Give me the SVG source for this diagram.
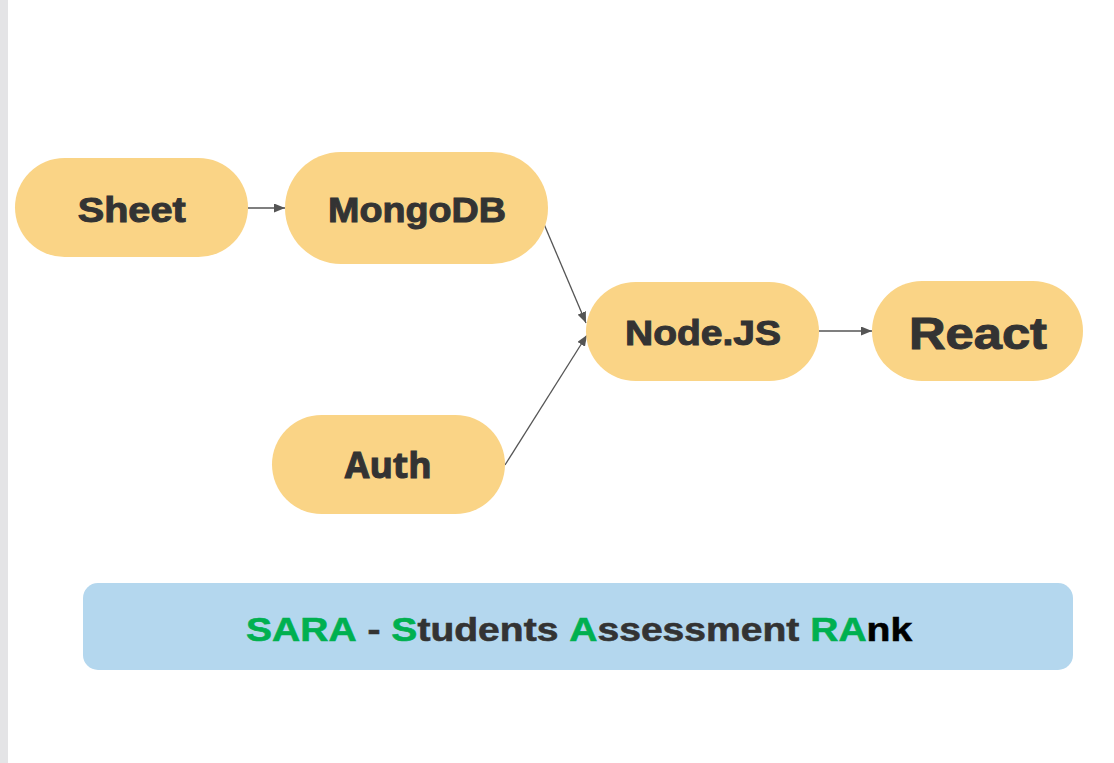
<svg xmlns="http://www.w3.org/2000/svg" width="1114" height="763" viewBox="0 0 1114 763">
  <style>
    .node { fill: #fad486; }
    .lbl { font-family: "Liberation Sans", Arial, sans-serif; font-weight: bold; fill: #333333; stroke: #333333; stroke-width: 1; text-anchor: middle; }
    .conn { stroke: #555555; stroke-width: 1.3; fill: none; marker-end: url(#arr); }
    .g { fill: #00b050; stroke: #00b050; }
    .d { fill: #333333; stroke: #333333; }
    .k { fill: #000000; stroke: #000000; }
  </style>
  <defs>
    <marker id="arr" markerUnits="userSpaceOnUse" markerWidth="11" markerHeight="9" refX="11" refY="4.5" orient="auto">
      <path d="M0,0 L11,4.5 L0,9 z" fill="#555555"/>
    </marker>
  </defs>
  <rect x="0" y="0" width="1114" height="763" fill="#ffffff"/>
  <rect x="0" y="0" width="8" height="763" fill="#e4e4e6"/>

  <g id="connectors">
    <line class="conn" x1="248" y1="208" x2="285" y2="208"/>
    <line class="conn" x1="541" y1="217" x2="586" y2="323"/>
    <line class="conn" x1="505" y1="465" x2="587" y2="335"/>
    <line class="conn" x1="819" y1="331" x2="872" y2="331"/>
  </g>

  <g id="node-sheet">
    <rect class="node" x="15" y="158" width="233" height="99" rx="49.5"/>
    <text class="lbl" x="131.7" y="221.7" font-size="35" textLength="108" lengthAdjust="spacingAndGlyphs">Sheet</text>
  </g>
  <g id="node-mongodb">
    <rect class="node" x="285" y="152" width="263" height="112" rx="56"/>
    <text class="lbl" x="417" y="221.7" font-size="35" textLength="178" lengthAdjust="spacingAndGlyphs">MongoDB</text>
  </g>
  <g id="node-nodejs">
    <rect class="node" x="586" y="282" width="233" height="99" rx="49.5"/>
    <text class="lbl" x="703" y="345" font-size="35" textLength="156" lengthAdjust="spacingAndGlyphs">Node.JS</text>
  </g>
  <g id="node-react">
    <rect class="node" x="872" y="281" width="211" height="100" rx="50"/>
    <text class="lbl" x="978" y="349.3" font-size="44" textLength="138" lengthAdjust="spacingAndGlyphs">React</text>
  </g>
  <g id="node-auth">
    <rect class="node" x="272" y="415" width="233" height="99" rx="49.5"/>
    <text class="lbl" x="388.3" y="478.3" font-size="35" textLength="87" lengthAdjust="spacingAndGlyphs" style="font-family: 'Open Sans', 'Liberation Sans', sans-serif;">Auth</text>
  </g>

  <g id="banner">
    <rect x="83" y="583" width="990" height="87" rx="15" fill="#b4d7ee"/>
    <g transform="translate(246,640.7) scale(1.166,1)">
      <text x="0" y="0" font-family="'Liberation Sans', Arial, sans-serif" font-weight="bold" font-size="33.5" stroke-width="0.6"><tspan class="g">SARA</tspan><tspan class="d"> - </tspan><tspan class="g">S</tspan><tspan class="d">tudents </tspan><tspan class="g">A</tspan><tspan class="d">ssessment </tspan><tspan class="g">RA</tspan><tspan class="k">nk</tspan></text>
    </g>
  </g>
</svg>
